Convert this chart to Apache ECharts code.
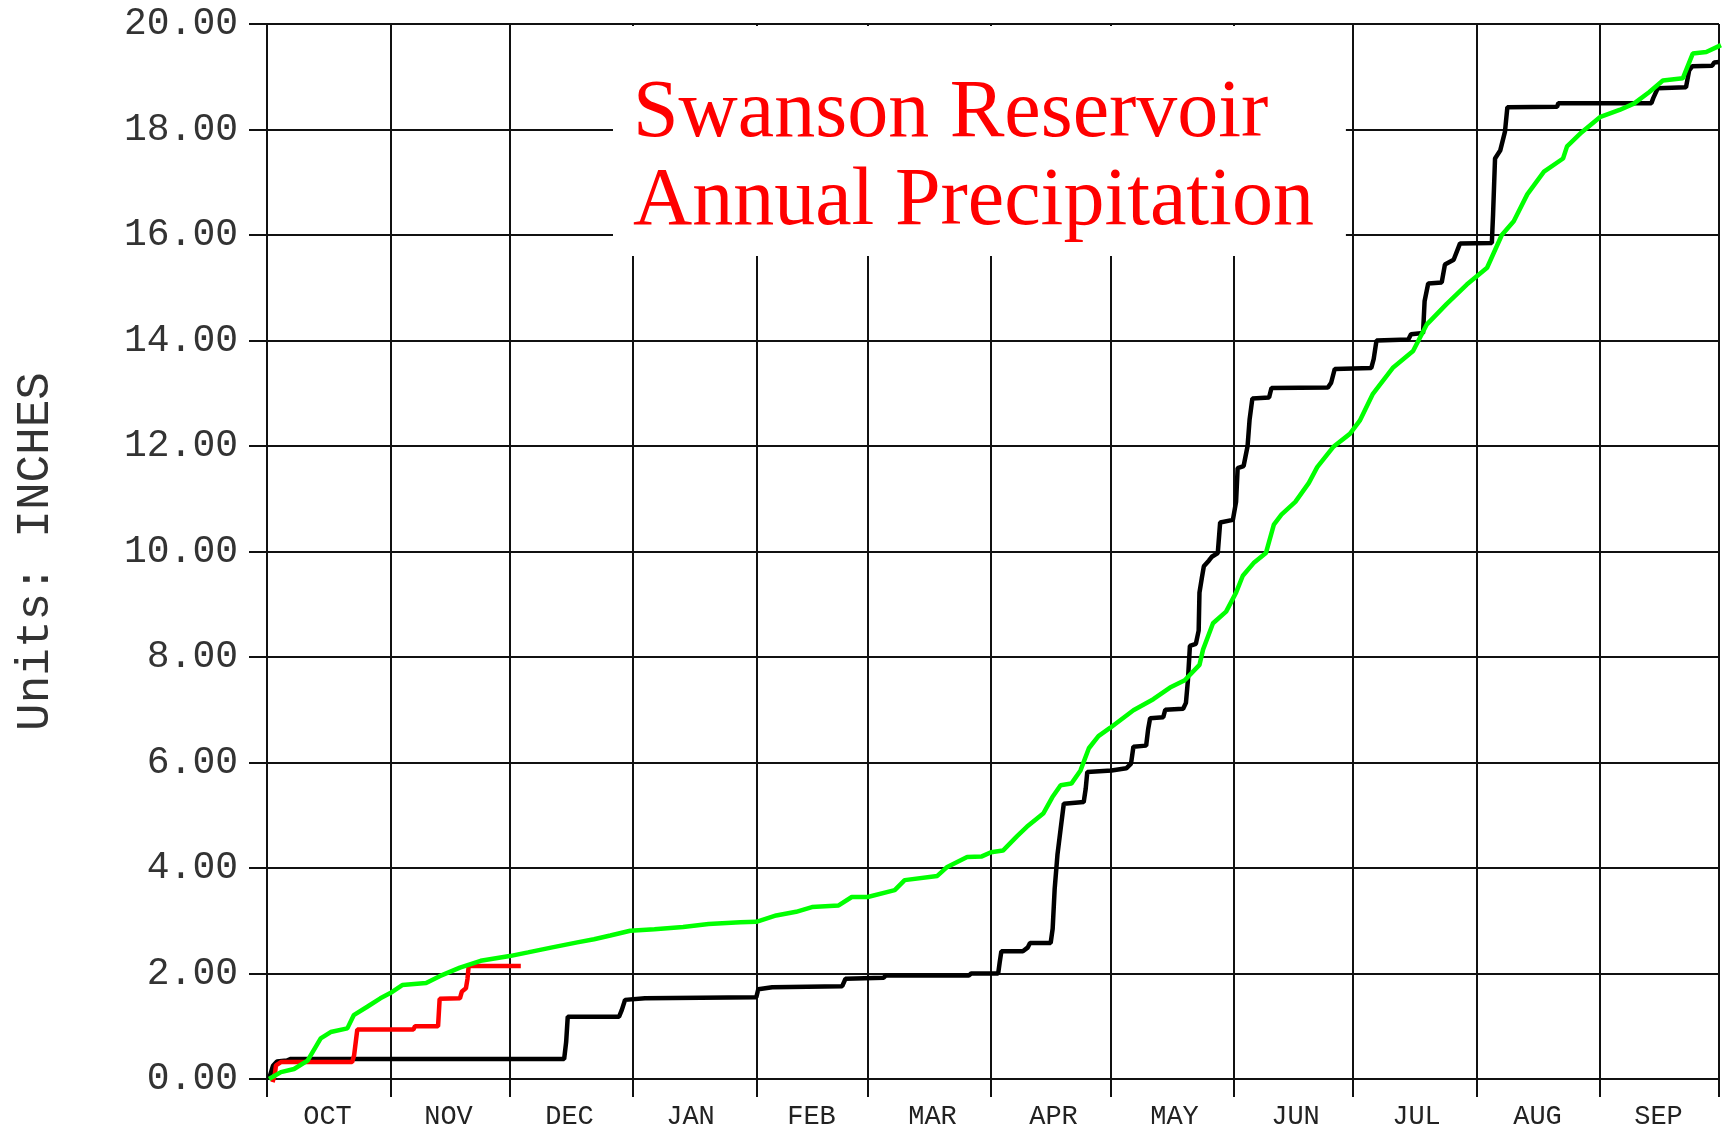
<!DOCTYPE html>
<html>
<head>
<meta charset="utf-8">
<script src="https://cdn.jsdelivr.net/npm/echarts@6/dist/echarts.min.js"></script>
<style>
  html, body { margin: 0; padding: 0; background: #fff; }
  #chart { width: 1727px; height: 1130px; }
</style>
</head>
<body>
<div id="chart"></div>
<script>
// ---- DATA ----
const monthNames = ['OCT','NOV','DEC','JAN','FEB','MAR','APR','MAY','JUN','JUL','AUG','SEP'];
const monthDays = [31,30,31,31,28,31,30,31,30,31,31,30];
const yTicks = { min: 0, max: 20, interval: 2 };

// Black: cumulative precipitation, [day of water year, inches]
const blackSeries = [
  [0.5,0],[1.5,0.25],[2.5,0.33],[5,0.35],[6,0.38],[74.7,0.38],[75.2,0.70],[75.6,1.18],
  [88.5,1.18],[89.2,1.31],[90,1.50],[95,1.53],[95.5,1.55],[123,1.55],[123.5,1.70],[127,1.74],
  [127.5,1.76],[144.6,1.76],[145.4,1.90],[155,1.92],[155.5,1.96],[176.4,1.96],[177,2.0],
  [183.8,2.0],[184.2,2.22],[184.6,2.42],[190,2.42],[191.2,2.49],[191.8,2.58],[197,2.58],
  [197.5,2.85],[198,3.6],[198.7,4.25],[199.5,4.74],[200.3,5.22],[205.3,5.25],[205.8,5.50],
  [206.2,5.82],[212.3,5.85],[216,5.89],[217.2,5.98],[217.8,6.30],[221,6.32],[221.5,6.63],
  [222,6.84],[225.3,6.86],[225.8,7.0],[230.3,7.02],[231,7.13],[231.5,7.56],[232,8.21],
  [233.5,8.25],[234.2,8.5],[234.4,9.22],[235,9.5],[235.5,9.72],[236.8,9.83],[237.5,9.9],
  [239,9.97],[239.6,10.55],[242.8,10.6],[243.6,10.94],[244,11.58],[245.5,11.62],[246.5,12.0],
  [247,12.5],[247.7,12.9],[251.9,12.92],[252.5,13.1],[266.7,13.11],[267.5,13.2],[268.4,13.46],
  [277.6,13.48],[278.2,13.65],[278.9,14.0],[286.9,14.02],[287.6,14.12],[290.6,14.14],
  [291,14.75],[291.9,15.08],[295.3,15.10],[296.1,15.44],[298.3,15.53],[299.9,15.84],
  [307.9,15.85],[308.2,16.38],[308.7,17.45],[310,17.6],[311.2,17.96],[311.8,18.42],
  [324.3,18.43],[324.6,18.5],[348,18.5],[348.5,18.6],[349.6,18.78],[356.7,18.8],
  [357.5,19.12],[358.3,19.2],[363.3,19.21],[363.8,19.27],[365,19.28]
];

// Red: current year to date
const redSeries = [
  [1.4,-0.06],[2.0,0.1],[2.25,0.26],[3.5,0.32],[21.4,0.32],[21.9,0.45],[22.7,0.94],
  [36.8,0.94],[37.2,1.0],[43,1.0],[43.4,1.52],[48.5,1.53],[49,1.66],[50,1.72],[50.4,1.9],
  [50.7,2.14],[63.8,2.14]
];

// Green: average cumulative precipitation
const greenSeries = [
  [0.5,0],[3.5,0.13],[6.8,0.19],[10.2,0.35],[13.5,0.77],[16,0.89],[20.2,0.96],[21.8,1.21],
  [25.2,1.37],[28.5,1.53],[31,1.63],[34,1.78],[40,1.82],[43.4,1.95],[48.5,2.11],[53.7,2.24],
  [61,2.33],[65.6,2.4],[71.4,2.49],[78,2.59],[82.2,2.65],[86.3,2.72],[91.3,2.81],[97.4,2.84],
  [104.6,2.88],[111,2.94],[119,2.97],[123,2.98],[128,3.1],[133,3.17],[137,3.26],[143.7,3.29],
  [147,3.45],[151,3.45],[157.8,3.58],[160.3,3.77],[168.5,3.85],[171,4.02],[176,4.21],
  [179.7,4.22],[182,4.30],[185,4.33],[188.5,4.6],[191,4.78],[195.2,5.04],[197.4,5.34],
  [199.5,5.57],[202.2,5.6],[204.5,5.85],[206.6,6.27],[209,6.5],[212,6.66],[217.8,6.99],
  [222.8,7.2],[227,7.42],[230.7,7.56],[234.4,7.85],[235.3,8.14],[237.8,8.64],[241.1,8.86],
  [243.6,9.22],[245.3,9.54],[248,9.78],[251.1,9.97],[253.1,10.51],[255,10.7],[258.5,10.94],
  [261.9,11.3],[264,11.6],[268,11.98],[272.2,12.23],[274.7,12.48],[278,12.99],[283.1,13.49],
  [288.1,13.8],[291.5,14.3],[296.5,14.69],[301.6,15.06],[306.7,15.38],[310.4,16.0],
  [313.4,16.26],[316.8,16.77],[321,17.2],[325.8,17.45],[326.8,17.68],[330.5,17.95],
  [335.2,18.24],[340,18.37],[343.6,18.49],[347.5,18.71],[350.9,18.93],[355.9,18.97],
  [358.4,19.44],[361.8,19.47],[365.5,19.6]
];

const titleLines = ['Swanson Reservoir', 'Annual Precipitation'];
const unitsLabel = 'Units: INCHES';

// ---- CHART ----
const monthBounds = [0];
monthDays.forEach(d => monthBounds.push(monthBounds[monthBounds.length - 1] + d));
const totalDays = monthBounds[monthBounds.length - 1];

const monoFont = '"Liberation Mono", "DejaVu Sans Mono", monospace';
const gridColor = '#111';

const chart = echarts.init(document.getElementById('chart'), null, { renderer: 'canvas' });
chart.setOption({
  animation: false,
  backgroundColor: '#fff',
  title: {
    text: titleLines.join('\n'),
    left: 613,
    top: 26,
    padding: [44, 32, 10, 20],
    backgroundColor: '#fff',
    textStyle: {
      color: '#ff0000',
      fontFamily: '"Liberation Serif", "DejaVu Serif", serif',
      fontWeight: 'normal',
      fontSize: 82,
      lineHeight: 88
    }
  },
  grid: { left: 267, right: 8, top: 24, bottom: 50, containLabel: false },
  xAxis: [
    {
      type: 'value',
      min: 0,
      max: totalDays,
      axisLine: { show: true, lineStyle: { color: gridColor, width: 2 } },
      axisTick: { show: true, customValues: monthBounds, length: 18, inside: false,
                  lineStyle: { color: gridColor, width: 2 } },
      axisLabel: { show: false },
      splitLine: { show: true, lineStyle: { color: gridColor, width: 2 } }
    },
    {
      type: 'category',
      data: monthNames,
      position: 'bottom',
      boundaryGap: true,
      axisLine: { show: false },
      axisTick: { show: false },
      splitLine: { show: false },
      axisLabel: { show: true, margin: 24, color: '#222', fontFamily: monoFont, fontSize: 27 }
    }
  ],
  yAxis: {
    type: 'value',
    min: yTicks.min,
    max: yTicks.max,
    interval: yTicks.interval,
    name: unitsLabel,
    nameLocation: 'middle',
    nameRotate: 90,
    nameGap: 208,
    nameTextStyle: { color: '#333', fontFamily: monoFont, fontSize: 46 },
    axisLine: { show: true, lineStyle: { color: gridColor, width: 2 } },
    axisTick: { show: true, length: 18, lineStyle: { color: gridColor, width: 2 } },
    axisLabel: { margin: 29, color: '#333', fontFamily: monoFont, fontSize: 38,
                 formatter: v => v.toFixed(2) },
    splitLine: { show: true, lineStyle: { color: gridColor, width: 2 } }
  },
  series: [
    { name: 'Black', type: 'line', xAxisIndex: 0, data: blackSeries, symbol: 'none',
      lineStyle: { color: '#000', width: 4.5 }, z: 3 },
    { name: 'Red', type: 'line', xAxisIndex: 0, data: redSeries, symbol: 'none', clip: false,
      lineStyle: { color: '#ff0000', width: 4.5 }, z: 4 },
    { name: 'Green', type: 'line', xAxisIndex: 0, data: greenSeries, symbol: 'none', clip: false,
      lineStyle: { color: '#00ff00', width: 4.5 }, z: 5 }
  ]
});
</script>
</body>
</html>
